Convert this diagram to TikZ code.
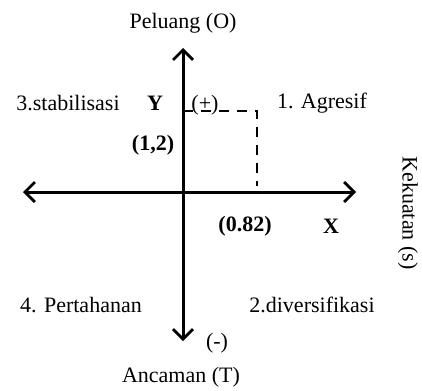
\documentclass[tikz,border=0pt]{standalone}
\usepackage{fontspec}
\setmainfont{Liberation Serif}
\usepackage{tikz}
\usetikzlibrary{arrows.meta,positioning}

\begin{document}
\begin{tikzpicture}[
 x=0.5pt,y=-0.5pt,
 lbl/.style={
  inner sep=1pt,
  font=\fontsize{11}{13}\selectfont
 },
 blbl/.style={
  lbl,
  font=\fontsize{11}{13}\selectfont\bfseries
 },
 axis/.style={{Straight Barb[length=5pt,width=10pt,line width=1.4pt]}-{Straight Barb[length=5pt,width=10pt,line width=1.4pt]},line width=1.5pt},
 guide/.style={dash pattern=on 5pt off 4pt,line width=0.6pt}
]
 \useasboundingbox (0,0) rectangle (422,390);

 \coordinate (top)    at (183,48);
 \coordinate (bottom) at (183,341);
 \coordinate (left)   at (23,192);
 \coordinate (right)  at (356,192);
 \coordinate (ymark)  at (183,111);
 \coordinate (corner) at (257,111);
 \coordinate (xmark)  at (257,186);

 \draw[axis] (left) -- (right);
 \draw[axis] (bottom) -- (top);
 \draw[guide] (ymark) -- (corner) -- (xmark);

 \node[lbl]  (peluang)  at (183,23)  {Peluang (O)};
 \node[lbl]  (ancaman)  at (181,377) {Ancaman (T)};
 \node[lbl,rotate=-90] (kekuatan) at (408,213) {Kekuatan (s)};

 \node[lbl]  (stab)  at (68,103)  {3.stabilisasi};
 \node[blbl] (ylab)  at (155,103) {Y};
 \node[lbl]  (plus)  at (205,105) {(+)};
 \node[lbl]  (agr)   at (322,103) {1. Agresif};
 \node[blbl] (ycoord) at (153,145) {(1,2)};

 \node[blbl] (xcoord) at (245,226) {(0.82)};
 \node[blbl] (xlab)   at (331,226) {X};

 \node[lbl]  (pert)  at (81,305)  {4. Pertahanan};
 \node[lbl]  (div)   at (312,305) {2.diversifikasi};
 \node[lbl]  (minus) at (217,343) {(-)};
\end{tikzpicture}
\end{document}
